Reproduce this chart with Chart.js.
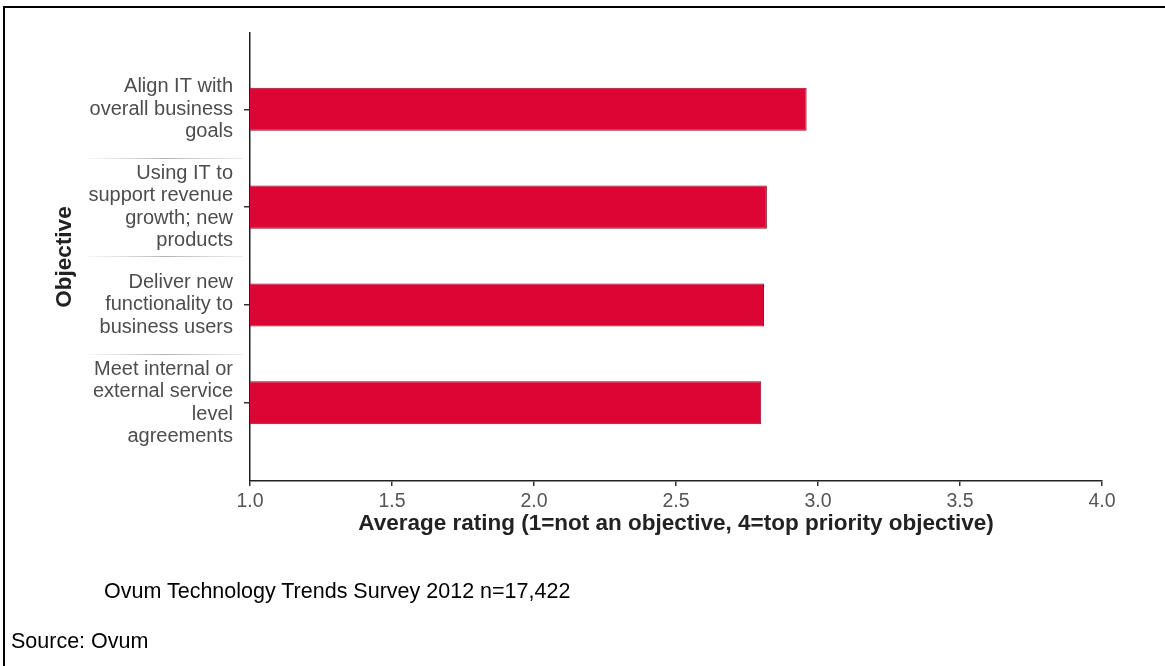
<!DOCTYPE html>
<html>
<head>
<meta charset="utf-8">
<script src="https://cdn.jsdelivr.net/npm/chart.js@4.4.1/dist/chart.umd.min.js"></script>
<style>
  html, body { margin:0; padding:0; background:#fff; }
  body { width:1165px; height:666px; position:relative; overflow:hidden; font-family:'Liberation Sans', Arial, sans-serif; }
  #frameTop { position:absolute; left:3px; top:6px; width:1162px; height:0; border-top:2px solid #000; }
  #frameLeft { position:absolute; left:3px; top:6px; width:0; height:660px; border-left:2px solid #000; }
  #wrap { position:absolute; left:0; top:0; width:1165px; height:666px; }
  .note { position:absolute; font-size:21.5px; line-height:22px; color:#000; white-space:nowrap; }
</style>
</head>
<body>
<div id="frameTop"></div>
<div id="frameLeft"></div>
<div id="wrap"><canvas id="c" width="1165" height="666"></canvas></div>
<div class="note" id="note1" style="left:104px; top:580px;"></div>
<div class="note" id="note2" style="left:11px; top:630px;"></div>
<script>
// ---- data ----
const categories = [
  ["Align IT with", "overall business", "goals"],
  ["Using IT to", "support revenue", "growth; new", "products"],
  ["Deliver new", "functionality to", "business users"],
  ["Meet internal or", "external service", "level", "agreements"]
];
const averageRating = [2.96, 2.82, 2.81, 2.80];
const xTickValues = [1.0, 1.5, 2.0, 2.5, 3.0, 3.5, 4.0];
const xAxisTitle = "Average rating (1=not an objective, 4=top priority objective)";
const yAxisTitle = "Objective";
const surveyNote = "Ovum Technology Trends Survey 2012 n=17,422";
const sourceNote = "Source: Ovum";

document.getElementById('note1').textContent = surveyNote;
document.getElementById('note2').textContent = sourceNote;

Chart.defaults.font.family = "'Liberation Sans', Arial, sans-serif";

const separators = {
  id: 'separators',
  afterDraw(chart) {
    const ys = chart.scales.y;
    const ctx = chart.ctx;
    ctx.save();
    for (let i = 0; i < categories.length - 1; i++) {
      const y = Math.round(ys.getPixelForValue(i + 0.5)) + 0.5;
      const g = ctx.createLinearGradient(87, 0, 243, 0);
      g.addColorStop(0, 'rgba(210,210,210,0.2)');
      g.addColorStop(0.5, 'rgba(170,170,170,0.9)');
      g.addColorStop(1, 'rgba(210,210,210,0.4)');
      ctx.strokeStyle = g;
      ctx.lineWidth = 1;
      ctx.beginPath();
      ctx.moveTo(87, y);
      ctx.lineTo(243, y);
      ctx.stroke();
    }
    ctx.restore();
  }
};

new Chart(document.getElementById('c'), {
  type: 'bar',
  data: {
    datasets: [{
      data: averageRating.map((v, i) => ({ x: v, y: i })),
      backgroundColor: '#DC0533',
      borderColor: '#8E0B28',
      borderWidth: 1,
      borderSkipped: false,
      barPercentage: 0.44,
      categoryPercentage: 1.0
    }]
  },
  options: {
    indexAxis: 'y',
    responsive: false,
    animation: false,
    events: [],
    layout: { padding: { left: 0, top: 33, right: 63, bottom: 125 } },
    plugins: { legend: { display: false }, tooltip: { enabled: false } },
    scales: {
      x: {
        type: 'linear',
        position: 'bottom',
        min: 1, max: 4,
        afterBuildTicks: (s) => { s.ticks = xTickValues.map(v => ({ value: v })); },
        afterFit: (s) => { s.height = 60; s.paddingLeft = 0; s.paddingRight = 0; },
        grid: { drawOnChartArea: false, drawTicks: true, tickLength: 5, color: '#333', lineWidth: 1.5 },
        border: { display: true, color: '#222', width: 1.5 },
        ticks: {
          color: '#555',
          font: { size: 19.5 },
          padding: 4,
          maxRotation: 0,
          callback: (v) => Number(v).toFixed(1)
        },
        title: {
          display: true,
          text: xAxisTitle,
          color: '#222',
          font: { size: 22.5, weight: 'bold' },
          padding: { top: 0, bottom: 4 }
        }
      },
      y: {
        type: 'linear',
        position: 'left',
        reverse: true,
        offset: false,
        min: -0.78, max: 3.80,
        afterBuildTicks: (s) => { s.ticks = categories.map((c, i) => ({ value: i })); },
        afterFit: (s) => { s.width = 250; s.paddingTop = 0; s.paddingBottom = 0; },
        grid: { offset: false, drawOnChartArea: false, drawTicks: true, tickLength: 6, color: '#333', lineWidth: 1.5 },
        border: { display: true, color: '#222', width: 1.5 },
        ticks: {
          color: '#4d4d4d',
          font: { size: 20, lineHeight: 1.125 },
          padding: 11,
          autoSkip: false,
          callback: (v) => categories[v]
        },
        title: {
          display: true,
          text: yAxisTitle,
          color: '#222',
          font: { size: 22.5, weight: 'bold' },
          padding: { top: 51, bottom: 0 }
        }
      }
    }
  },
  plugins: [separators]
});
</script>
</body>
</html>
